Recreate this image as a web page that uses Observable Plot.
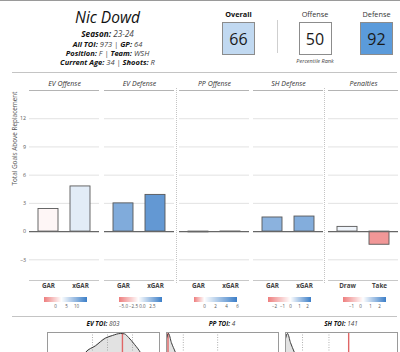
<!DOCTYPE html>
<html><head><meta charset="utf-8">
<script src="https://cdn.jsdelivr.net/npm/d3@7"></script>
<script src="https://cdn.jsdelivr.net/npm/@observablehq/plot@0.6"></script>
<style>
body{margin:0;background:#fff;}
#root{position:relative;width:400px;height:352px;overflow:hidden;background:#fff;font-family:"Open Sans",sans-serif;color:#222;}
.abs{position:absolute;}
.t{position:absolute;white-space:nowrap;line-height:1;transform:translateX(-50%);}
.t b{color:#111;font-weight:700;}
.t span{color:#444;}
.hline{position:absolute;height:0;border-top:1px solid #c4c4c4;}
.vdot{position:absolute;width:0;border-left:1.5px dotted #c4c4c4;}
.box{position:absolute;width:33px;height:33px;box-sizing:border-box;border:1px solid #8c8c8c;display:flex;align-items:center;justify-content:center;font-size:16px;color:#1a1a1a;}
.legwrap .tick line{display:none;}
.legwrap svg, .pl svg{overflow:visible;background:transparent;}
</style></head><body><div id="root"></div>
<script>
// ---------- data ----------
const playerName = "Nic Dowd";
const infoLines = [
  [["Season", "23-24"]],
  [["All TOI", "973"], ["GP", "64"]],
  [["Position", "F"], ["Team", "WSH"]],
  [["Current Age", "34"], ["Shoots", "R"]]
];
const rankLabels = ["Overall", "Offense", "Defense"];
const rankValues = [66, 50, 92];

const panels = ["EV Offense", "EV Defense", "PP Offense", "SH Defense", "Penalties"];
const categories = [["GAR", "xGAR"], ["GAR", "xGAR"], ["GAR", "xGAR"], ["GAR", "xGAR"], ["Draw", "Take"]];
const values = [[2.4, 4.8], [3.0, 3.9], [-0.08, 0.01], [1.5, 1.6], [0.5, -1.4]];
const yTicks = [-3, 0, 3, 6, 9, 12];
const yLabel = "Total Goals Above Replacement";

const legendDomains = [[-5.2, 15.2], [-6, 5.1], [-1.9, 6.05], [-2.7, 2.5], [-1.8, 2.7]];
const legendPivots = [3, -1, 0, 0, 0.3];
const legendTicks = [[0, 5, 10], [-5, -2.5, 0, 2.5], [0, 2, 4, 6], [-2, -1, 0, 1, 2], [-1, 0, 1, 2]];
const legendFormats = ["d", ".1f", "d", "d", "d"];

const toiLabels = ["EV TOI", "PP TOI", "SH TOI"];
const toiValues = [803, 4, 141];
const toiDomains = [[0, 1200], [0, 300], [0, 250]];
const evDensX = [0, 150, 300, 407, 514, 621, 696, 782, 825, 868, 932, 996, 1100, 1200];
const evDensY = [0.05, 0.2, 0.45, 0.714, 0.81, 0.92, 0.957, 0.986, 0.98, 0.93, 0.83, 0.714, 0.4, 0.1];
const ppDensX = [0, 5.4, 13, 24, 40, 60, 100, 150, 200, 300];
const ppDensY = [0.91, 0.986, 0.857, 0.714, 0.45, 0.25, 0.1, 0.05, 0.03, 0.01];
const shDensX = [0, 4.5, 11, 20, 35, 60, 100, 150, 200, 250];
const shDensY = [0.91, 0.986, 0.857, 0.714, 0.45, 0.25, 0.12, 0.08, 0.03, 0.01];
const toiQuantiles = [[482, 643, 911], [45, 137], [38, 97]];

// ---------- styles ----------
const lowColor = "#ee7f7f", midColor = "#ffffff", highColor = "#3d7fc8";
const root = document.getElementById("root");
function add(html) { root.insertAdjacentHTML("beforeend", html); }
function place(el, left, top) { const d = document.createElement("div"); d.className = "abs pl"; d.style.left = left + "px"; d.style.top = top + "px"; d.appendChild(el); root.appendChild(d); return d; }

// top border & separators
add(`<div class="hline" style="left:0;top:0;width:400px;border-top:1.5px solid #9a9a9a"></div>`);
add(`<div class="hline" style="left:12px;top:72px;width:385px"></div>`);
add(`<div class="hline" style="left:12px;top:315.5px;width:385px"></div>`);
add(`<div class="abs" style="left:277px;top:20px;width:1px;height:33px;background:#cfcfcf"></div>`);

// header text
add(`<div class="t" style="left:107.5px;top:9.5px;font-size:15.5px;font-style:italic;color:#111">${playerName}</div>`);
const infoTops = [29.5, 40.5, 49.7, 58.8];
const infoSizes = [8.2, 7.5, 7.5, 7.5];
infoLines.forEach((line, i) => {
  const html = line.map(([k, v]) => `<b>${k}:</b> <span>${v}</span>`).join(` <span>|</span> `);
  add(`<div class="t" style="left:107.5px;top:${infoTops[i]}px;font-size:${infoSizes[i]}px;font-style:italic">${html}</div>`);
});

// percentile boxes, colored through a Plot scale
const rankScale = Plot.scale({color: {type: "linear", domain: [0, 50, 100], range: [lowColor, midColor, "#3c88d4"]}});
const boxLefts = [222, 298.5, 360];
rankLabels.forEach((lab, i) => {
  const cx = boxLefts[i] + 16.5;
  add(`<div class="t" style="left:${cx}px;top:11px;font-size:7.3px;${i === 0 ? "font-weight:700;color:#111" : "color:#333"}">${lab}</div>`);
  add(`<div class="box" style="left:${boxLefts[i]}px;top:22px;background:${rankScale.apply(rankValues[i])}">${rankValues[i]}</div>`);
});
add(`<div class="t" style="left:315px;top:59.4px;font-size:5.5px;font-style:italic;color:#444">Percentile Rank</div>`);

// bar panels
const panelLefts = [29, 104, 178.5, 253, 327.5];
const panelW = 70;
const yDomain = [-5.2, 15];
panels.forEach((name, i) => {
  const first = i === 0;
  const data = categories[i].map((c, j) => ({cat: c, value: values[i][j]}));
  const [lo, hi] = legendDomains[i];
  const f = (legendPivots[i] - lo) / (hi - lo);
  const interp = t => t < f ? d3.interpolateRgb(lowColor, midColor)(t / f) : d3.interpolateRgb(midColor, highColor)((t - f) / (1 - f));
  const colorOpts = {type: "linear", domain: legendDomains[i], interpolate: interp, clamp: true};
  const plot = Plot.plot({
    width: panelW + (first ? 29 : 0), height: 218,
    marginLeft: first ? 29 : 0, marginRight: 0, marginTop: 14, marginBottom: 14,
    style: {fontFamily: "Open Sans", fontSize: "6px", overflow: "visible", background: "transparent"},
    x: {domain: categories[i], paddingInner: 0.39, paddingOuter: 0.275, axis: null},
    y: {domain: yDomain, axis: null},
    color: colorOpts,
    marks: [
      Plot.gridY(yTicks.filter(d => d !== 0), {stroke: "#e2e2e2", strokeOpacity: 1}),
      Plot.ruleY([yDomain[1]], {stroke: "#b4b4b4", strokeWidth: 1.2}),
      Plot.ruleY([yDomain[0]], {stroke: "#c8c8c8", strokeWidth: 1}),
      Plot.barY(data, {x: "cat", y: "value", fill: "value", stroke: "#585858", strokeWidth: 0.9}),
      Plot.ruleY([0], {stroke: "#666", strokeWidth: 1.2}),
      Plot.axisX({anchor: "bottom", tickSize: 0, tickPadding: 3, fontWeight: "bold", fontSize: 6.3, fill: "#444", label: null}),
      first ? Plot.axisY({ticks: yTicks, tickSize: 0, tickPadding: 3.5, fontSize: 5.3, fill: "#555", label: null}) : null,
      first ? Plot.text([yLabel], {frameAnchor: "left", rotate: -90, dx: -14.5, fontSize: 6.4, fill: "#555"}) : null,
      Plot.text([name], {frameAnchor: "top", lineAnchor: "middle", dy: -6.5, fontSize: 7, fontStyle: "italic", fill: "#333"})
    ]
  });
  place(plot, first ? 0 : panelLefts[i], 76);

  const leg = Plot.legend({
    color: colorOpts, legend: "ramp", width: 43, height: 14,
    marginTop: 0, marginBottom: 9, marginLeft: 0, marginRight: 0,
    tickSize: 0, ticks: legendTicks[i], tickFormat: d3.format(legendFormats[i]), label: null,
    style: {fontSize: "4.5px", fontFamily: "Open Sans", color: "#555", background: "transparent", overflow: "visible"}
  });
  const w = place(leg, panelLefts[i] + panelW / 2 - 20, 296.6);
  w.classList.add("legwrap");
});

// dotted group separators
add(`<div class="vdot" style="left:176px;top:88px;height:195px"></div>`);
add(`<div class="vdot" style="left:324px;top:88px;height:195px"></div>`);

// density plots
const densX = [evDensX, ppDensX, shDensX];
const densY = [evDensY, ppDensY, shDensY];
const densLefts = [47, 166, 285];
toiLabels.forEach((lab, k) => {
  const data = densX[k].map((x, j) => ({toi: x, d: densY[k][j]}));
  add(`<div class="t" style="left:${densLefts[k] + 56}px;top:321px;font-size:6.4px;font-style:italic"><b>${lab}:</b> <span>${toiValues[k]}</span></div>`);
  const p = Plot.plot({
    width: 112, height: 70, margin: 0,
    style: {overflow: "visible", background: "transparent"},
    x: {domain: toiDomains[k], axis: null},
    y: {domain: [0, 1], axis: null},
    marks: [
      Plot.areaY(data, {x: "toi", y: "d", fill: "#e2e2e2", curve: "monotone-x", clip: true}),
      Plot.ruleX(toiQuantiles[k], {stroke: "#9a9a9a", strokeDasharray: "1,1.5", strokeWidth: 0.8}),
      Plot.ruleX([toiValues[k]], {stroke: "#e06666", strokeWidth: 1.4, clip: true}),
      Plot.lineY(data, {x: "toi", y: "d", stroke: "#3a3a3a", strokeWidth: 1, curve: "monotone-x", clip: true}),
      Plot.frame({stroke: "#9a9a9a"})
    ]
  });
  place(p, densLefts[k], 332);
});
</script></body></html>
